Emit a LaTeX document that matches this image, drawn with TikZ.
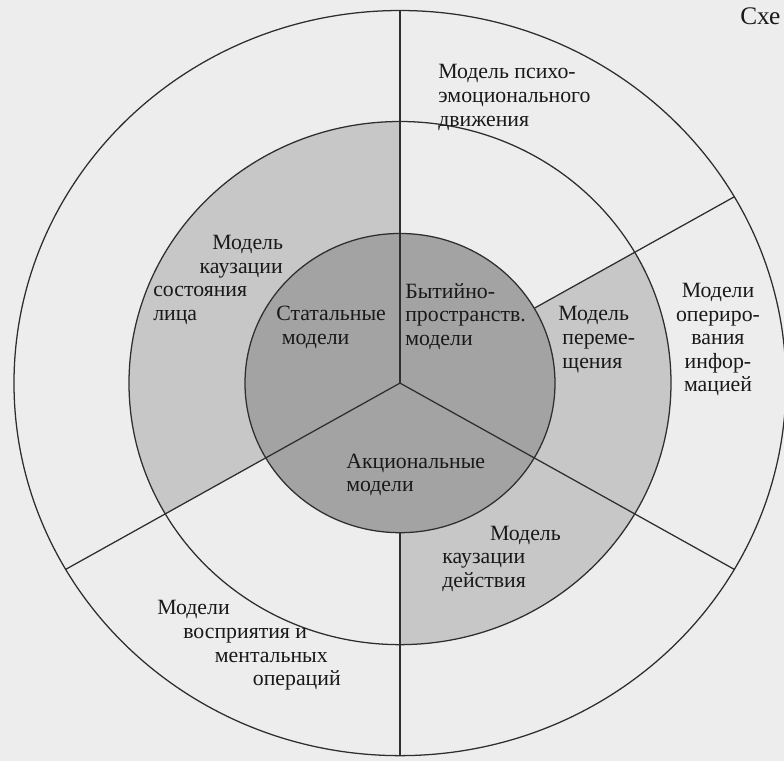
\documentclass[tikz,border=0pt]{standalone}
\usepackage{fontspec}
\setmainfont{Liberation Serif}
\definecolor{pagebg}{gray}{0.93}
\definecolor{ringfill}{gray}{0.78}
\definecolor{corefill}{gray}{0.64}
\definecolor{inkline}{gray}{0.18}
\tikzset{
  lbl/.style={inner sep=0pt, align=left, anchor=west, text=black!90,
    font=\fontsize{15.5}{16.8}\selectfont},
  spoke/.style={draw=inkline, line width=0.9pt}
}
\begin{document}
\begin{tikzpicture}[x=0.025cm, y=0.024125cm]
    \useasboundingbox[fill=pagebg] (-400,-391.7) rectangle (384,396.9);
    \coordinate (c) at (0,0);

    \fill[ringfill] (c) circle[radius=271];
    \begin{scope}
      \clip (c) circle[radius=271];
      \fill[pagebg] (c) -- (30:600) -- (90:600) -- cycle;
      \fill[pagebg] (c) -- (210:600) -- (270:600) -- cycle;
    \end{scope}
    \fill[corefill] (c) circle[radius=155];

    \draw[spoke] (c) circle[radius=386] (c) circle[radius=271] (c) circle[radius=155];
    \foreach \a in {90,210,330}
      \draw[spoke] (c) -- (\a:386);
    \foreach \a in {30,270}
      \draw[spoke] (\a:155) -- (\a:386);

    \node[lbl] (psycho) at (38,296) {Модель психо-\\эмоционального\\движения};
    \node[lbl] (statecaus) at (-247,107) {\hspace*{42pt}Модель\\\hspace*{33pt}каузации\\состояния\\лица};
    \node[lbl] (statal) at (-124,58) {Статальные\\\hspace*{4pt}модели};
    \node[lbl] (being) at (5,69) {Бытийно-\\пространств.\\модели};
    \node[lbl] (motion) at (158,45) {Модель\\\hspace*{3pt}переме-\\\hspace*{3pt}щения};
    \node[lbl, align=center, anchor=center] (inform) at (318,45) {Модели\\опериро-\\вания\\инфор-\\мацией};
    \node[lbl] (action) at (-54,-95) {Акциональные\\модели};
    \node[lbl] (actcaus) at (42,-182) {\hspace*{34pt}Модель\\каузации\\действия};
    \node[lbl] (percept) at (-243,-272) {Модели\\\hspace*{18.5pt}восприятия и\\\hspace*{41pt}ментальных\\\hspace*{68pt}операций};
    \node[lbl, font=\fontsize{18}{20}\selectfont] (scheme) at (340,380) {Схе};
\end{tikzpicture}
\end{document}
